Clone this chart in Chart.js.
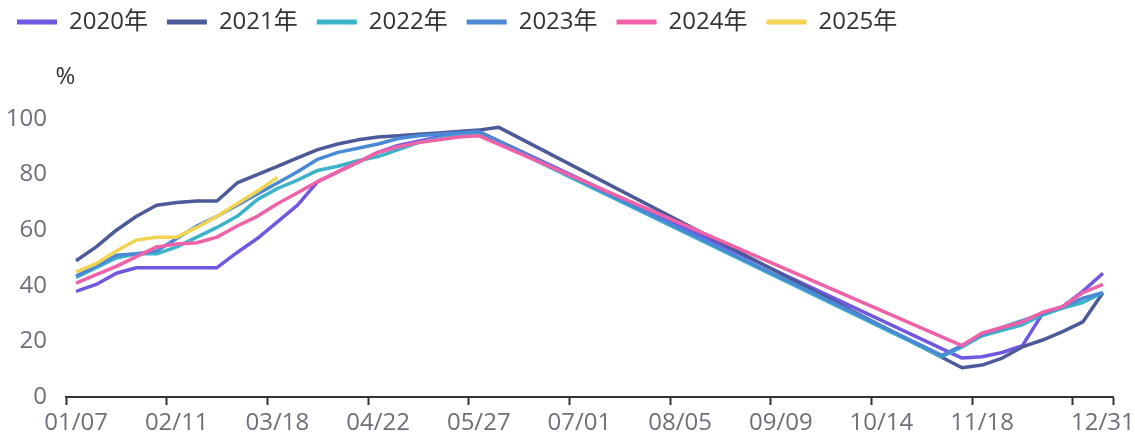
<!DOCTYPE html>
<html>
<head>
<meta charset="utf-8">
<script src="https://cdn.jsdelivr.net/npm/chart.js@4.4.1/dist/chart.umd.min.js"></script>
<style>
  html, body { margin: 0; padding: 0; background: #fff; }
  #wrap { width: 1135px; height: 438px; }
</style>
</head>
<body>
<div id="wrap"><canvas id="mycanvas" width="1135" height="438"></canvas></div>
<script>
// weekly dates, Jan to Dec
var weeks = [
  "01/07","01/14","01/21","01/28","02/04","02/11","02/18","02/25","03/04","03/11",
  "03/18","03/25","04/01","04/08","04/15","04/22","04/29","05/06","05/13","05/20",
  "05/27","06/03","06/10","06/17","06/24","07/01","07/08","07/15","07/22","07/29",
  "08/05","08/12","08/19","08/26","09/02","09/09","09/16","09/23","09/30","10/07",
  "10/14","10/21","10/28","11/04","11/11","11/18","11/25","12/02","12/09","12/16",
  "12/23","12/31"
];

var years = ["2020年", "2021年", "2022年", "2023年", "2024年", "2025年"];
var colors = ["#7158e2", "#4d5a9a", "#3db3ca", "#4a89d6", "#f062a8", "#f2d452"];

// no readings between early summer and November, the line just spans the gap
var y2020 = [38, 40.5, 44.5, 46.5, 46.5, 46.5, 46.5, 46.5, 52, 57,
  63, 69, 77.5, 81, 84.5, 88, 90.5, 92, 93.5, 94.5,
  95.5, null, null, null, null, null, null, null, null, null,
  null, null, null, null, null, null, null, null, null, null,
  null, null, null, null, 14, 14.5, 16, 18.5, 30, 32.5,
  38, 44.5];
var y2021 = [49, 54, 60, 65, 69, 70, 70.5, 70.5, 77, 80,
  83, 86, 89, 91, 92.5, 93.5, 94, 94.5, 95, 95.5,
  96, 97, null, null, null, null, null, null, null, null,
  null, null, null, null, null, null, null, null, null, null,
  null, null, null, null, 10.5, 11.5, 14, 18, 20.5, 23.5,
  27, 37.5];
var y2022 = [43, 46.5, 50, 51.5, 51.5, 54, 57.5, 61, 65, 71,
  75, 78, 81.5, 83, 85, 86.5, 89, 91.5, 93, 94,
  95, null, null, null, null, null, null, null, null, null,
  null, null, null, null, null, null, null, null, null, null,
  null, null, null, 14.5, 18, 22, 24, 26, 29.5, 32,
  34, 37.5];
var y2023 = [43.5, 47, 51, 51.5, 52.5, 57, 61.5, 65, 69, 73,
  77, 81, 85.5, 88, 89.5, 91, 93, 94, 94.5, 95,
  95.5, null, null, null, null, null, null, null, null, null,
  null, null, null, null, null, null, null, null, null, null,
  null, null, null, 15, 18.5, 22.5, 25, 27.5, 30, 32.5,
  35.5, 37.5];
var y2024 = [41, 44, 47, 50.5, 54, 55, 55.5, 57.5, 61.5, 65,
  69.5, 73.5, 77.5, 81, 84.5, 88, 90, 91.5, 92.5, 93.5,
  94, null, null, null, null, null, null, null, null, null,
  null, null, null, null, null, null, null, null, null, null,
  null, null, null, null, 18.5, 23, 25, 27, 30.5, 32.5,
  37.5, 40.5];
var y2025 = [45, 48, 52.5, 56.5, 57.5, 57.5, 61, 65, 69.5, 74, 79];

var yTicks = [0, 20, 40, 60, 80, 100];

var FONT = '"Open Sans", "Noto Sans CJK SC", sans-serif';

// "%" unit above the value axis
var unitLabel = {
  id: 'unitLabel',
  afterDraw: function(chart) {
    var ctx = chart.ctx, area = chart.chartArea;
    ctx.save();
    ctx.font = '24px ' + FONT;
    ctx.fillStyle = '#333';
    ctx.textAlign = 'center';
    ctx.textBaseline = 'middle';
    ctx.fillText('%', area.left - 0.5, area.top - 42);
    ctx.restore();
  }
};

// leave room between the legend and the plot
var legendGap = {
  id: 'legendGap',
  beforeInit: function(chart) {
    var fit = chart.legend.fit;
    chart.legend.fit = function() {
      fit.call(this);
      this.height += 75;
    };
  }
};

function draw() {
  var series = [y2020, y2021, y2022, y2023, y2024, y2025];
  var datasets = [];
  for (var i in series) {
    datasets.push({
      label: years[i],
      data: series[i],
      borderColor: colors[i],
      backgroundColor: colors[i],
      borderWidth: 3.5,
      borderJoinStyle: 'round',
      pointRadius: 0,
      pointHoverRadius: 0,
      tension: 0,
      fill: false,
      spanGaps: true,
      order: series.length - 1 - i
    });
  }

  var shown = function(index) {
    return index % 5 === 0;
  };

  new Chart(document.getElementById('mycanvas'), {
    type: 'line',
    data: { labels: weeks, datasets: datasets },
    plugins: [unitLabel, legendGap],
    options: {
      responsive: false,
      animation: false,
      layout: { padding: { top: -9, left: -2, right: 0, bottom: 0 } },
      plugins: {
        tooltip: { enabled: false },
        legend: {
          position: 'top',
          align: 'start',
          labels: {
            boxWidth: 40,
            boxHeight: 5,
            padding: 19,
            color: '#333',
            font: { family: FONT, size: 24 },
            sort: function(a, b) { return a.datasetIndex - b.datasetIndex; },
            generateLabels: function(chart) {
              return Chart.defaults.plugins.legend.labels.generateLabels(chart).map(function(item) {
                item.lineWidth = 0;
                item.fillStyle = item.strokeStyle;
                return item;
              });
            }
          }
        }
      },
      scales: {
        x: {
          type: 'category',
          offset: true,
          grid: {
            offset: true,
            drawOnChartArea: false,
            drawTicks: true,
            tickLength: 8,
            tickWidth: 2,
            tickColor: function(ctx) {
              return (ctx.index === undefined || shown(ctx.index)) ? '#333' : 'rgba(0,0,0,0)';
            }
          },
          border: { display: true, color: '#333', width: 2 },
          ticks: {
            autoSkip: false,
            maxRotation: 0,
            minRotation: 0,
            padding: 4,
            color: '#6e7079',
            font: { family: FONT, size: 24 },
            callback: function(value, index) {
              if (index === weeks.length - 1) return weeks[index];
              if (shown(index) && index < weeks.length - 2) return weeks[index];
              return '';
            }
          },
          afterFit: function(scale) {
            scale.height = 41;
            scale.paddingLeft = 0;
            scale.paddingRight = 22;
          }
        },
        y: {
          min: 0,
          max: 100,
          grid: { display: false },
          border: { display: false },
          afterBuildTicks: function(scale) {
            scale.ticks = yTicks.map(function(v) { return { value: v }; });
          },
          ticks: {
            padding: 11,
            color: '#6e7079',
            font: { family: FONT, size: 24 }
          },
          afterFit: function(scale) {
            scale.width = 68;
          }
        }
      }
    }
  });
}

Promise.all([
  document.fonts.load('24px "Open Sans"'),
  document.fonts.load('24px "Noto Sans CJK SC"', '年')
]).then(draw, draw);
</script>
</body>
</html>
